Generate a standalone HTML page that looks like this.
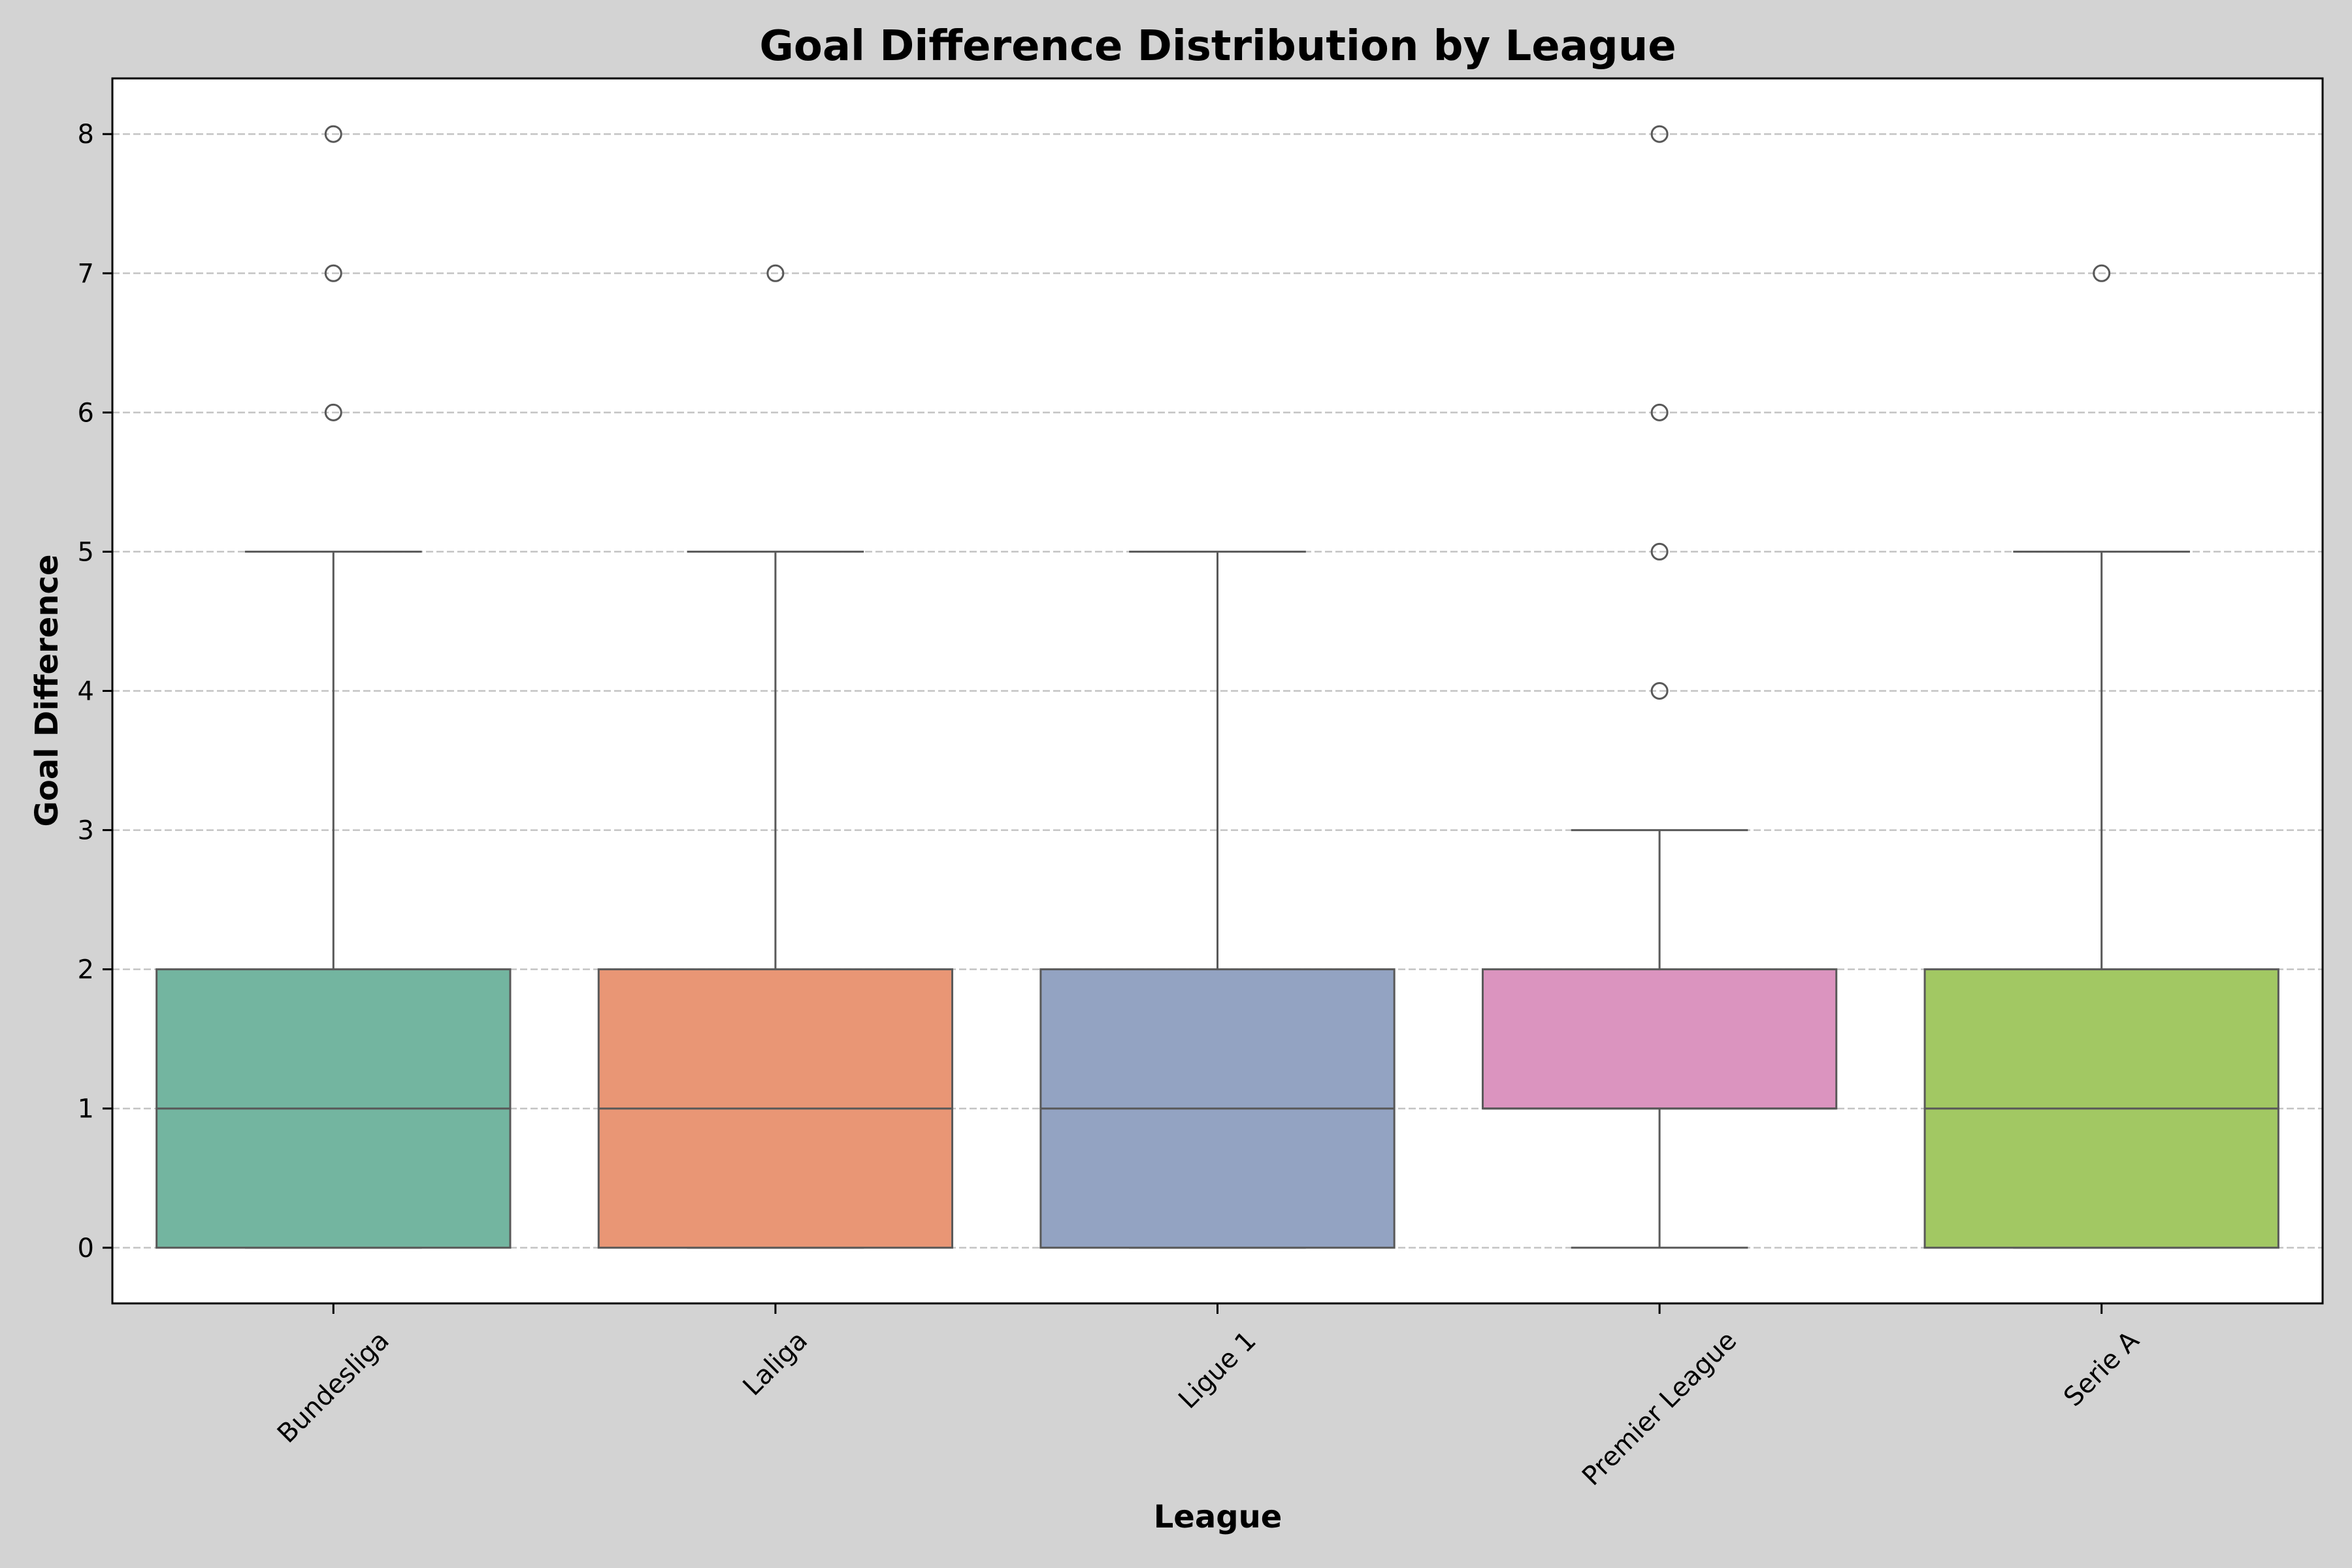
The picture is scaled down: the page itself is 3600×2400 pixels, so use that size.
<!DOCTYPE html>
<html><head><meta charset="utf-8"><style>
html,body{margin:0;padding:0;background:#d3d3d3;}
svg{display:block;font-family:"DejaVu Sans","Liberation Sans",sans-serif;}
</style></head><body>
<svg id="chart" width="3600" height="2400" viewBox="0 0 3600 2400" xmlns="http://www.w3.org/2000/svg">
<rect x="0" y="0" width="3600" height="2400" fill="#d3d3d3"/>
<rect x="172" y="120" width="3383" height="1875" fill="#ffffff"/>
<g id="grid"></g><g id="boxes"></g><g id="axes"></g>
<text x="1864" y="92" text-anchor="middle" font-size="64" font-weight="bold" fill="#000">Goal Difference Distribution by League</text>
<text x="1864" y="2338" text-anchor="middle" font-size="48" font-weight="bold" fill="#000">League</text>
<text x="0" y="0" transform="translate(88,1057) rotate(-90)" text-anchor="middle" font-size="48" font-weight="bold" fill="#000">Goal Difference</text>
</svg>
<script>
const categories = ["Bundesliga", "Laliga", "Ligue 1", "Premier League", "Serie A"];
const q1Values = [0, 0, 0, 1, 0];
const medianValues = [1, 1, 1, 1, 1];
const q3Values = [2, 2, 2, 2, 2];
const whiskerLow = [0, 0, 0, 0, 0];
const whiskerHigh = [5, 5, 5, 3, 5];
const outliers = [[6, 7, 8], [7], [], [4, 5, 6, 8], [7]];
const yTicks = [0, 1, 2, 3, 4, 5, 6, 7, 8];
const colors = ["#73b5a0", "#e99675", "#93a3c2", "#db94bf", "#a2c863"];

const NS = "http://www.w3.org/2000/svg";
const L = 172, R = 3555, T = 120, B = 1995;
const yMin = -0.4, yMax = 8.4;
function yPos(v) { return B - (v - yMin) / (yMax - yMin) * (B - T); }
const band = (R - L) / categories.length;
function xPos(i) { return L + band * (i + 0.5); }
function mk(tag, attrs, parent) {
  const e = document.createElementNS(NS, tag);
  for (const k in attrs) e.setAttribute(k, attrs[k]);
  parent.appendChild(e);
  return e;
}
const grid = document.getElementById('grid');
const boxes = document.getElementById('boxes');
const axes = document.getElementById('axes');
const LC = "#595959";

yTicks.forEach(v => {
  const g = mk('line', {x1: L, x2: R, y1: yPos(v), y2: yPos(v), stroke: "#c4c4c4", 'stroke-width': 2.5, 'stroke-dasharray': "11,5"}, grid);
  
  
  const t = mk('line', {x1: L - 15, x2: L, y1: yPos(v), y2: yPos(v), stroke: "#000", 'stroke-width': 3}, axes);
  
  
  const lb = mk('text', {x: L - 28, y: yPos(v) + 14, 'text-anchor': 'end', 'font-size': 40, fill: '#000'}, axes);
  lb.textContent = v;
  
  
});

const bw = band * 0.8;
categories.forEach((c, i) => {
  const x = xPos(i);
  const g = mk('g', {}, boxes);
  
  
  const w1 = mk('line', {x1: x, x2: x, y1: yPos(q3Values[i]), y2: yPos(whiskerHigh[i]), stroke: LC, 'stroke-width': 3}, g);
  
  
  const w2 = mk('line', {x1: x, x2: x, y1: yPos(q1Values[i]), y2: yPos(whiskerLow[i]), stroke: LC, 'stroke-width': 3}, g);
  
  
  const c1 = mk('line', {x1: x - bw / 4, x2: x + bw / 4, y1: yPos(whiskerHigh[i]), y2: yPos(whiskerHigh[i]), stroke: LC, 'stroke-width': 3}, g);
  
  
  const c2 = mk('line', {x1: x - bw / 4, x2: x + bw / 4, y1: yPos(whiskerLow[i]), y2: yPos(whiskerLow[i]), stroke: LC, 'stroke-width': 3}, g);
  
  
  const r = mk('rect', {x: x - bw / 2, y: yPos(q3Values[i]), width: bw, height: Math.max(0, yPos(q1Values[i]) - yPos(q3Values[i])), fill: colors[i], stroke: LC, 'stroke-width': 3}, g);
  
  
  const m = mk('line', {x1: x - bw / 2, x2: x + bw / 2, y1: yPos(medianValues[i]), y2: yPos(medianValues[i]), stroke: LC, 'stroke-width': 3}, g);
  
  
  outliers[i].forEach(v => {
    const o = mk('circle', {cx: x, cy: yPos(v), r: 12, fill: 'none', stroke: LC, 'stroke-width': 3}, g);
    
    
  });
  const t = mk('line', {x1: x, x2: x, y1: B, y2: B + 16, stroke: '#000', 'stroke-width': 3}, axes);
  
  
  const lb = mk('text', {x: 0, y: 0, 'text-anchor': 'middle', 'dominant-baseline': 'central', 'font-size': 40, fill: '#000'}, axes);
  lb.textContent = c;
  
  
  const w = lb.getComputedTextLength();
  const h = (w + 40) * 0.7071;
  lb.setAttribute('transform', 'translate(' + x + ',' + (B + 36 + h / 2) + ') rotate(-45)');
});

const frame = mk('rect', {x: L, y: T, width: R - L, height: B - T, fill: 'none', stroke: '#000', 'stroke-width': 3}, axes);


</script>
</body></html>
